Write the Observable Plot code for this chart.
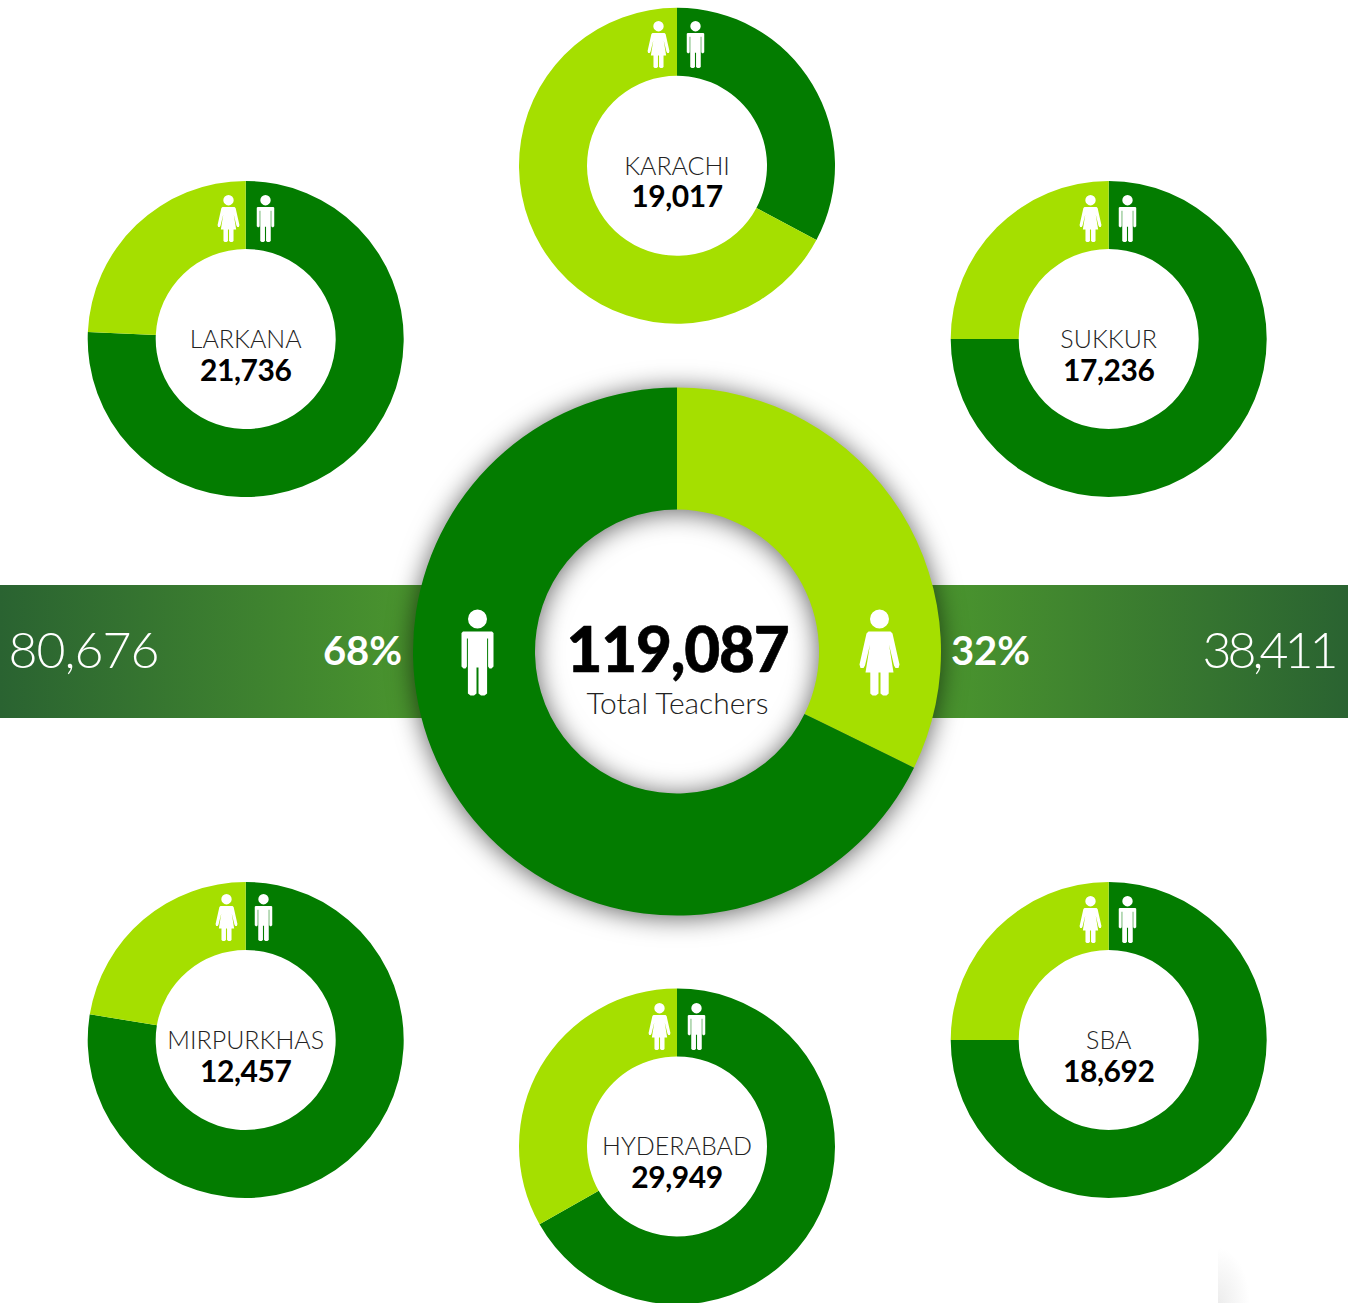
<!DOCTYPE html>
<html>
<head>
<meta charset="utf-8">
<script src="https://cdn.jsdelivr.net/npm/d3@7"></script>
<script src="https://cdn.jsdelivr.net/npm/@observablehq/plot@0.6"></script>
<style>
html,body{margin:0;padding:0;background:#fff;overflow:hidden}
svg{display:block}
.tot text{letter-spacing:-1.2px}
.male text{letter-spacing:-1px}
.female text{letter-spacing:-4px}
.num text{letter-spacing:-0.4px}
.cap text{letter-spacing:0}
</style>
</head>
<body>
<div id="chart"></div>
<script>
// ---- data ----
const districts = ["KARACHI", "LARKANA", "SUKKUR", "MIRPURKHAS", "SBA", "HYDERABAD"];
const teachers = [19017, 21736, 17236, 12457, 18692, 29949];
const maleShare = [32.8, 75.7, 75, 77.6, 75, 66.8];
const totalTeachers = 119087;
const totalCaption = "Total Teachers";
const maleTotal = 80676;
const femaleTotal = 38411;
const malePct = 68;
const femalePct = 32;
const fmt = d3.format(",");

// ---- layout (kept apart from the data) ----
const W = 1348, H = 1303;
const slotX = [677, 245.7, 1108.7, 245.7, 1108.7, 677];
const slotY = [165.7, 339, 339, 1040, 1040, 1146.4];
const iconY = [44, 218, 218, 917, 919, 1026];
const iconW = [658, 228, 1090, 226, 1090, 659];
const iconM = [695, 265, 1127, 263, 1127, 696];
const DARK = "#037c00", LIGHT = "#a5df00";
const centre = {x: 677, y: 651.5, outer: 264, inner: 142};
const small = {outer: 158, inner: 90};

// ---- custom pictograms as d3-symbol-like objects (unit: half height = 43) ----
function head(c, k) {
  c.moveTo(9.5 * k, -33.5 * k);
  c.arc(0, -33.5 * k, 9.5 * k, 0, 2 * Math.PI);
  c.closePath();
}
function poly(c, k, pts) {
  pts.forEach(([x, y], i) => (i ? c.lineTo(x * k, y * k) : c.moveTo(x * k, y * k)));
  c.closePath();
}
const manSymbol = {
  draw(c, size) {
    const k = Math.sqrt(size / Math.PI) / 43;
    head(c, k);
    poly(c, k, [[-14.5,-21],[14.5,-21],[16,-19.5],[16,14],[14,16],[12,16],[10.6,14],[10.6,-14],[9.6,-14],[9.6,41],[7,43],[3.5,43],[1,41],[1,15],[-1,15],[-1,41],[-3.5,43],[-7,43],[-9.6,41],[-9.6,-14],[-10.6,-14],[-10.6,14],[-12,16],[-14,16],[-16,14],[-16,-19.5]]);
  }
};
const womanSymbol = {
  draw(c, size) {
    const k = Math.sqrt(size / Math.PI) / 43;
    head(c, k);
    poly(c, k, [[-11,-21],[11,-21],[13,-19],[20,12],[19,15.5],[16,15.5],[14.5,13],[9.5,-8],[14,20],[9.2,20],[9.2,41],[7,43],[3.5,43],[1,41],[1,20],[-1,20],[-1,41],[-3.5,43],[-7,43],[-9.2,41],[-9.2,20],[-14,20],[-9.5,-8],[-14.5,13],[-16,15.5],[-19,15.5],[-20,12],[-13,-19]]);
  }
};

// ---- slices ----
const pie = d3.pie().sort(null).value(d => d.value);
function ringRows(x, y, outer, inner, parts) {
  return pie(parts).map(a => ({x, y, outer, inner, startAngle: a.startAngle, endAngle: a.endAngle, fill: a.data.fill}));
}
const smallRows = districts.flatMap((d, i) => ringRows(slotX[i], slotY[i], small.outer, small.inner, [
  {value: maleShare[i], fill: DARK},
  {value: 100 - maleShare[i], fill: LIGHT}
]));
const centreRows = ringRows(centre.x, centre.y, centre.outer, centre.inner, [
  {value: femaleTotal, fill: LIGHT},
  {value: maleTotal, fill: DARK}
]);

// a donut mark: dots carry the position through Plot's scales, the render hook draws the arcs
function ring(rows, filter) {
  return Plot.dot(rows, {
    x: "x", y: "y",
    render(index, scales, values) {
      const g = d3.create("svg:g");
      if (filter) g.style("filter", filter);
      for (const i of index) {
        const d = rows[i];
        g.append("path")
          .attr("transform", `translate(${values.x[i]},${values.y[i]})`)
          .attr("fill", d.fill)
          .attr("d", d3.arc()({innerRadius: d.inner, outerRadius: d.outer, startAngle: d.startAngle, endAngle: d.endAngle}));
      }
      return g.node();
    }
  });
}

const defs = () => {
  const s = d3.create("svg:defs");
  const left = s.append("linearGradient").attr("id", "bandL");
  left.append("stop").attr("offset", 0).attr("stop-color", "#2a6331");
  left.append("stop").attr("offset", 1).attr("stop-color", "#4b962e");
  const right = s.append("linearGradient").attr("id", "bandR");
  right.append("stop").attr("offset", 0).attr("stop-color", "#4b962e");
  right.append("stop").attr("offset", 1).attr("stop-color", "#2a6331");
  const smudge = s.append("radialGradient").attr("id", "smudge").attr("cx", 0).attr("cy", 1).attr("r", 1);
  smudge.append("stop").attr("offset", 0).attr("stop-color", "#ececec");
  smudge.append("stop").attr("offset", 1).attr("stop-color", "#ffffff");
  return s.node();
};

const iconRows = districts.map((d, i) => ({y: iconY[i], w: iconW[i], m: iconM[i]}));
const labelRows = districts.map((name, i) => ({name, n: fmt(teachers[i]), x: slotX[i] - 0.5, y: slotY[i]}));
const LIGHTFONT = "Lato", BOLDFONT = "Lato";

const plot = Plot.plot({
  width: W, height: H,
  margin: 0,
  x: {domain: [0, W], range: [0, W], axis: null},
  y: {domain: [0, H], range: [0, H], axis: null},
  marks: [
    defs,
    Plot.rect([{x1: 1218, x2: 1250, y1: 1248, y2: 1303}], {x1: "x1", x2: "x2", y1: "y1", y2: "y2", fill: "url(#smudge)"}),
    Plot.rect([{x1: 0, x2: 425, y1: 585, y2: 718}], {x1: "x1", x2: "x2", y1: "y1", y2: "y2", fill: "url(#bandL)"}),
    Plot.rect([{x1: 930, x2: W, y1: 585, y2: 718}], {x1: "x1", x2: "x2", y1: "y1", y2: "y2", fill: "url(#bandR)"}),
    ring(centreRows, "drop-shadow(0px 2px 13px rgba(0,0,0,0.62))"),
    ring(smallRows),
    // pictograms
    Plot.dot([centre], {x: () => 477, y: () => 652, symbol: manSymbol, r: 43, fill: "white", stroke: "none"}),
    Plot.dot([centre], {x: () => 879, y: () => 652, symbol: womanSymbol, r: 43, fill: "white", stroke: "none"}),
    Plot.dot(iconRows, {x: "m", y: "y", symbol: manSymbol, r: 23.5, fill: "white", stroke: "none"}),
    Plot.dot(iconRows, {x: "w", y: "y", symbol: womanSymbol, r: 23.5, fill: "white", stroke: "none"}),
    // centre
    Plot.text([fmt(totalTeachers)], {x: () => centre.x, y: () => 652, text: d => d, className: "tot", fontFamily: BOLDFONT, fontWeight: 900, fontSize: 62, fill: "#000", stroke: "#000", strokeWidth: 0.6}),
    Plot.text([totalCaption], {x: () => centre.x, y: () => 704, text: d => d, className: "cap", fontFamily: LIGHTFONT, fontWeight: 300, fontSize: 30, fill: "#222"}),
    // band labels
    Plot.text([fmt(maleTotal)], {x: () => 8, y: () => 651, text: d => d, className: "male", textAnchor: "start", fontFamily: LIGHTFONT, fontWeight: 300, fontSize: 50, fill: "#fff"}),
    Plot.text([fmt(femaleTotal)], {x: () => 1334, y: () => 651, text: d => d, className: "female", textAnchor: "end", fontFamily: LIGHTFONT, fontWeight: 300, fontSize: 50, fill: "#fff"}),
    Plot.text([malePct + "%"], {x: () => 362, y: () => 652, text: d => d, fontFamily: BOLDFONT, fontWeight: 700, fontSize: 40, fill: "#fff"}),
    Plot.text([femalePct + "%"], {x: () => 990, y: () => 652, text: d => d, fontFamily: BOLDFONT, fontWeight: 700, fontSize: 40, fill: "#fff"}),
    // district labels
    Plot.text(labelRows, {x: "x", y: "y", dy: 0.5, text: "name", fontFamily: LIGHTFONT, fontWeight: 300, fontSize: 25, fill: "#222"}),
    Plot.text(labelRows, {x: "x", y: "y", dy: 31.5, text: "n", className: "num", fontFamily: BOLDFONT, fontWeight: 700, fontSize: 30, fill: "#000"})
  ]
});
document.getElementById("chart").append(plot);
</script>
</body>
</html>
